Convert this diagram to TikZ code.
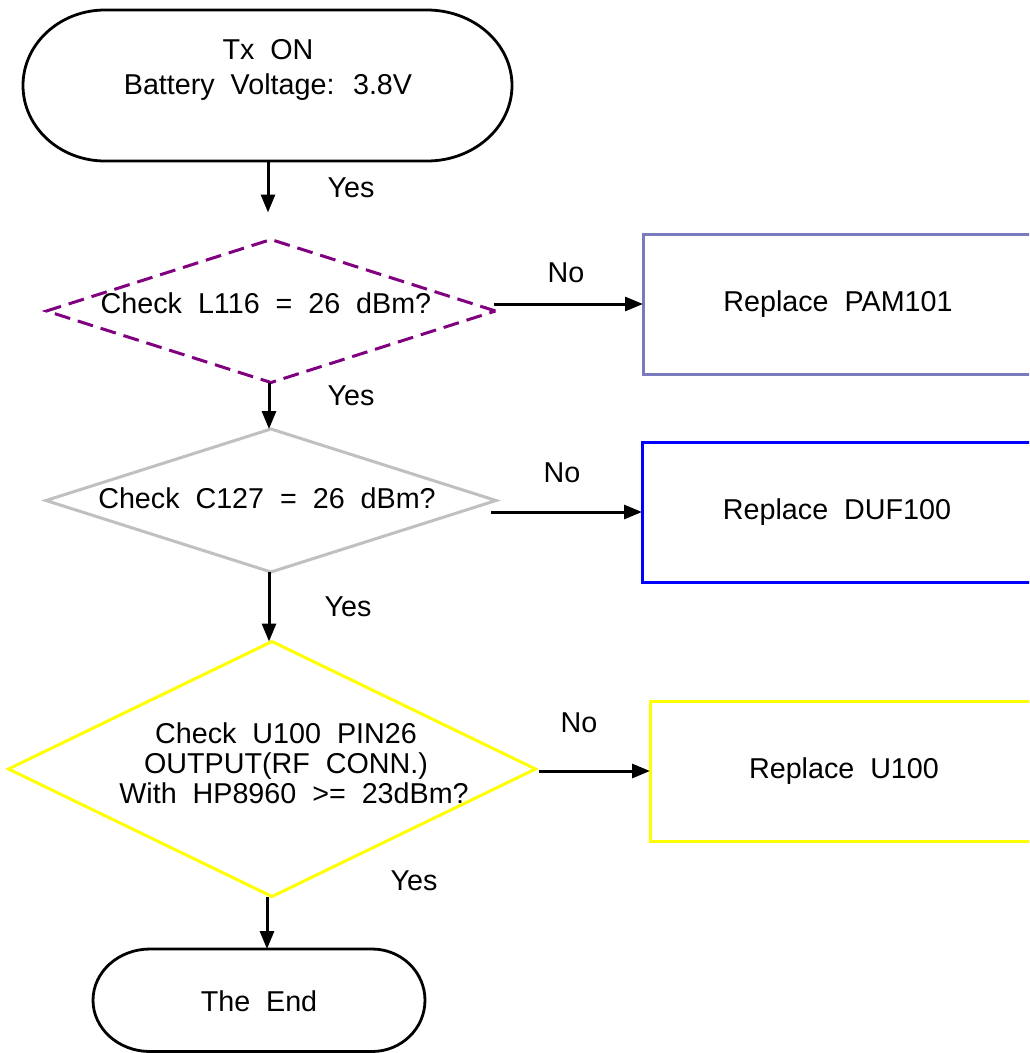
\documentclass[tikz,border=0pt]{standalone}
\usepackage{fontspec}
\setmainfont{Liberation Sans}[WordSpace=2]
\usetikzlibrary{shapes.geometric,arrows.meta}
\definecolor{dpurple}{RGB}{128,0,128}
\definecolor{dgray}{RGB}{192,192,192}
\definecolor{dyellow}{RGB}{255,255,0}
\definecolor{dblue}{RGB}{0,0,255}
\definecolor{dslate}{RGB}{122,122,190}
\begin{document}
\begin{tikzpicture}[x=1pt,y=1pt,
  every node/.style={font=\fontsize{28.7}{30}\selectfont, inner sep=0pt, outer sep=0pt},
  ghost/.style={rectangle, draw=none},
  termline/.style={draw=black, line width=2.8pt},
  dia/.style={diamond, inner sep=0pt, line width=3pt},
  boxx/.style={rectangle, line width=3pt, minimum width=390pt, minimum height=140pt},
  arr/.style={draw=black, line width=3pt, -{Triangle[length=18pt,width=14pt]}},
  lbl/.style={text=black}
]
\useasboundingbox (0,0) rectangle (1029,-1053);
\clip (0,0) rectangle (1029,-1053);
\fill[white] (0,0) rectangle (1029,-1053);

% start terminal
\node[ghost, minimum width=489pt, minimum height=151pt] (start) at (267.5,-85.5) {};
\draw[termline] (105,-10) -- (427,-10) arc[start angle=90, end angle=-90, x radius=85pt, y radius=75.5pt] -- (105,-161) arc[start angle=270, end angle=90, x radius=82pt, y radius=75.5pt] -- cycle;
\node[align=center, font=\fontsize{28.7}{35}\selectfont] (starttext) at (268,-70) {Tx ON\\Battery Voltage: 3.8V};

% diamonds
\node[dia, draw=dpurple, dashed, dash pattern=on 16pt off 8pt, minimum width=449pt, minimum height=143pt] (d1) at (271,-311) {};
\node (t1) at (266,-303) {Check L116 = 26 dBm?};

\node[dia, draw=dgray, minimum width=450pt, minimum height=143pt] (d2) at (271,-500.5) {};
\node (t2) at (267,-498) {Check C127 = 26 dBm?};

\node[dia, draw=dyellow, minimum width=527pt, minimum height=255pt] (d3) at (272,-769) {};
\node[align=center] (t3) at (286,-763) {Check U100 PIN26\\OUTPUT(RF CONN.)\\\hspace*{16pt}With HP8960 >= 23dBm?};

% end terminal
\node[ghost, minimum width=332pt, minimum height=102.5pt] (end) at (259,-1000.25) {};
\draw[termline] (150,-949) -- (372,-949) arc[start angle=90, end angle=-90, x radius=53pt, y radius=51.25pt] -- (150,-1051.5) arc[start angle=270, end angle=90, x radius=57pt, y radius=51.25pt] -- cycle;
\node (endtext) at (259,-1001) {The End};

% boxes
\node[boxx, draw=dslate] (b1) at (838,-304) {Replace PAM101};
\node[boxx, draw=dblue] (b2) at (837,-512) {Replace DUF100};
\node[boxx, draw=dyellow, minimum width=388pt] (b3) at (844,-771) {Replace U100};

% connectors
\draw[arr, shorten >=27pt] (start.south -| 268,0) -- (d1.north -| 268,0);
\draw[arr] (d1.south -| 269,0) -- (d2.north -| 269,0);
\draw[arr] (d2.south -| 269,0) -- (d3.north -| 269,0);
\draw[arr] (d3.south -| 267,0) -- (end.north -| 267,0);
\draw[arr, shorten <=-2pt] (b1.west -| d1.east) -- (b1.west);
\draw[arr, shorten <=-5pt] (b2.west -| d2.east) -- (b2.west);
\draw[arr, shorten <=3pt] (b3.west -| d3.east) -- (b3.west);

% labels
\node[lbl] (y1) at (351,-188) {Yes};
\node[lbl] (y2) at (351,-396) {Yes};
\node[lbl] (y3) at (348,-607) {Yes};
\node[lbl] (y4) at (414,-881) {Yes};
\node[lbl] (n1) at (566,-273) {No};
\node[lbl] (n2) at (562,-473) {No};
\node[lbl] (n3) at (579,-723) {No};
\end{tikzpicture}
\end{document}
